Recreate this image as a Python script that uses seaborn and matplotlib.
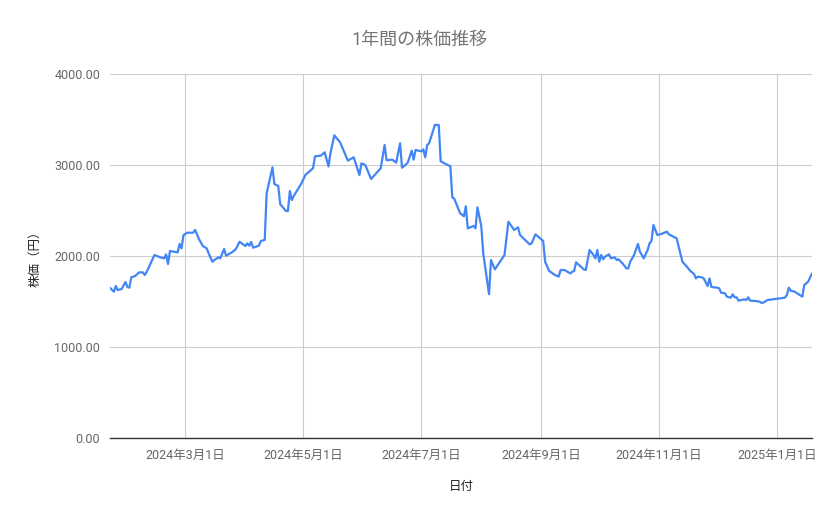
import matplotlib
matplotlib.use("Agg")
import matplotlib.pyplot as plt
import matplotlib.dates as mdates
from matplotlib.ticker import FuncFormatter, FixedLocator
import seaborn as sns
import pandas as pd

dates = [
    "2024-01-22", "2024-01-24", "2024-01-25", "2024-01-26", "2024-01-28", "2024-01-30", "2024-01-31",
    "2024-02-01", "2024-02-02", "2024-02-04", "2024-02-06", "2024-02-08", "2024-02-09", "2024-02-10",
    "2024-02-14", "2024-02-17", "2024-02-19", "2024-02-20", "2024-02-21", "2024-02-22", "2024-02-26",
    "2024-02-27", "2024-02-28", "2024-02-29",
    "2024-03-02", "2024-03-05", "2024-03-06", "2024-03-08", "2024-03-10", "2024-03-12", "2024-03-13",
    "2024-03-15", "2024-03-16", "2024-03-18", "2024-03-19", "2024-03-21", "2024-03-22", "2024-03-25",
    "2024-03-27", "2024-03-29",
    "2024-04-01", "2024-04-02", "2024-04-03", "2024-04-04", "2024-04-05", "2024-04-08", "2024-04-09",
    "2024-04-11", "2024-04-12", "2024-04-15", "2024-04-16", "2024-04-18", "2024-04-19", "2024-04-22",
    "2024-04-23", "2024-04-24", "2024-04-25", "2024-04-26", "2024-04-30",
    "2024-05-02", "2024-05-06", "2024-05-07", "2024-05-10", "2024-05-12", "2024-05-14", "2024-05-15",
    "2024-05-17", "2024-05-20", "2024-05-24", "2024-05-27", "2024-05-30", "2024-05-31",
    "2024-06-02", "2024-06-05", "2024-06-10", "2024-06-12", "2024-06-13", "2024-06-16", "2024-06-18",
    "2024-06-20", "2024-06-21", "2024-06-23", "2024-06-24", "2024-06-26", "2024-06-27", "2024-06-28",
    "2024-07-01", "2024-07-02", "2024-07-03", "2024-07-04", "2024-07-05", "2024-07-08", "2024-07-10",
    "2024-07-11", "2024-07-16", "2024-07-17", "2024-07-18", "2024-07-21", "2024-07-23", "2024-07-24",
    "2024-07-25", "2024-07-28", "2024-07-29", "2024-07-30",
    "2024-08-01", "2024-08-02", "2024-08-05", "2024-08-06", "2024-08-08", "2024-08-13", "2024-08-15",
    "2024-08-18", "2024-08-20", "2024-08-21", "2024-08-26", "2024-08-27", "2024-08-29",
    "2024-09-01", "2024-09-02", "2024-09-03", "2024-09-05", "2024-09-08", "2024-09-09", "2024-09-10",
    "2024-09-11", "2024-09-13", "2024-09-16", "2024-09-17", "2024-09-18", "2024-09-19", "2024-09-23",
    "2024-09-24", "2024-09-26", "2024-09-28", "2024-09-29", "2024-09-30",
    "2024-10-01", "2024-10-02", "2024-10-03", "2024-10-04", "2024-10-06", "2024-10-07", "2024-10-09",
    "2024-10-10", "2024-10-11", "2024-10-13", "2024-10-15", "2024-10-16", "2024-10-17", "2024-10-19",
    "2024-10-21", "2024-10-22", "2024-10-24", "2024-10-26", "2024-10-27", "2024-10-28", "2024-10-29",
    "2024-10-31",
    "2024-11-02", "2024-11-05", "2024-11-06", "2024-11-10", "2024-11-13", "2024-11-15", "2024-11-17",
    "2024-11-19", "2024-11-20", "2024-11-21", "2024-11-23", "2024-11-24", "2024-11-26", "2024-11-27",
    "2024-11-28",
    "2024-12-01", "2024-12-02", "2024-12-03", "2024-12-05", "2024-12-06", "2024-12-08", "2024-12-09",
    "2024-12-10", "2024-12-11", "2024-12-12", "2024-12-15", "2024-12-16", "2024-12-17", "2024-12-18",
    "2024-12-21", "2024-12-23", "2024-12-24", "2024-12-25", "2024-12-27",
    "2025-01-05", "2025-01-06", "2025-01-07", "2025-01-08", "2025-01-10", "2025-01-14", "2025-01-15",
    "2025-01-17", "2025-01-19",
]

prices = [
    1650, 1608, 1670, 1626, 1637, 1714, 1659,
    1652, 1766, 1780, 1820, 1820, 1791, 1827,
    2011, 1985, 1974, 2018, 1912, 2055, 2040,
    2132, 2084, 2231,
    2256, 2256, 2286, 2187, 2110, 2084, 2029,
    1937, 1956, 1985, 1974, 2077, 2004, 2040,
    2073, 2157,
    2110, 2139, 2113, 2154, 2091, 2113, 2165,
    2176, 2689, 2974, 2791, 2769, 2571, 2494,
    2494, 2714, 2615, 2659, 2798,
    2890, 2965, 3095, 3103, 3139, 2985, 3132,
    3326, 3249, 3048, 3085, 2890, 3018,
    3000, 2846, 2965, 3220, 3052, 3059, 3026,
    3239, 2970, 3006, 3029, 3158, 3059, 3165,
    3150, 3172, 3085, 3220, 3238, 3440, 3440,
    3040, 2985, 2645, 2630, 2472, 2436, 2546,
    2304, 2330, 2304, 2535,
    2326, 2029, 1580, 1956, 1853, 2011, 2377,
    2286, 2315, 2231, 2128, 2139, 2238,
    2183, 2165, 1937, 1838, 1791, 1784, 1773,
    1846, 1846, 1809, 1827, 1835, 1930, 1853,
    1846, 2066, 2011, 1974, 2066,
    1937, 2011, 1963, 1993, 2018, 1974, 1985,
    1956, 1963, 1919, 1864, 1864, 1937, 2011,
    2132, 2048, 1974, 2066, 2139, 2165, 2341,
    2231,
    2242, 2267, 2238, 2194, 1937, 1890, 1838,
    1802, 1754, 1773, 1766, 1754, 1670, 1754,
    1659,
    1652, 1645, 1597, 1590, 1553, 1542, 1579,
    1546, 1546, 1509, 1524, 1516, 1546, 1509,
    1505, 1498, 1483, 1490, 1516,
    1542, 1571, 1652, 1619, 1608, 1553, 1681,
    1718, 1809,
]

y_ticks = [0, 1000, 2000, 3000, 4000]
title = "1年間の株価推移"
x_label = "日付"
y_label = "株価（円）"

df = pd.DataFrame({"日付": pd.to_datetime(dates), "株価": prices})

sns.set_theme(style="white")
plt.rcParams["font.family"] = ["Roboto", "Noto Sans CJK JP", "DejaVu Sans"]

fig = plt.figure(figsize=(8.39, 5.19), dpi=100)
ax = fig.add_axes([110 / 839, 1 - 438 / 519, (812 - 110) / 839, (438 - 74) / 519])

sns.lineplot(data=df, x="日付", y="株価", ax=ax, color="#4285F4", linewidth=1.6)

ax.set_xlim(df["日付"].min(), df["日付"].max())
ax.set_ylim(0, 4000)
ax.yaxis.set_major_locator(FixedLocator(y_ticks))
ax.yaxis.set_major_formatter(FuncFormatter(lambda v, p: f"{v:.2f}"))
ax.xaxis.set_major_locator(mdates.MonthLocator(bymonth=[1, 3, 5, 7, 9, 11], bymonthday=1))
ax.xaxis.set_major_formatter(FuncFormatter(
    lambda v, p: (lambda d: f"{d.year}年{d.month}月{d.day}日")(mdates.num2date(v))))

ax.grid(True, color="#cccccc", linewidth=0.8)
for s in ["left", "right", "top"]:
    ax.spines[s].set_visible(False)
ax.spines["bottom"].set_color("#333333")
ax.spines["bottom"].set_linewidth(1.0)

ax.tick_params(axis="y", length=4, width=0.8, color="#cccccc", pad=3, labelsize=9, labelcolor="#666666")
ax.tick_params(axis="x", length=0, pad=8, labelsize=9, labelcolor="#666666")

ax.set_xlabel(x_label, fontsize=9, color="#222222", labelpad=13)
ax.set_ylabel(y_label, fontsize=9, color="#222222", labelpad=9)
fig.text(420 / 839, 1 - 40 / 519, title, ha="center", va="center", fontsize=13, color="#757575")

fig.savefig("out.png", dpi=100)
